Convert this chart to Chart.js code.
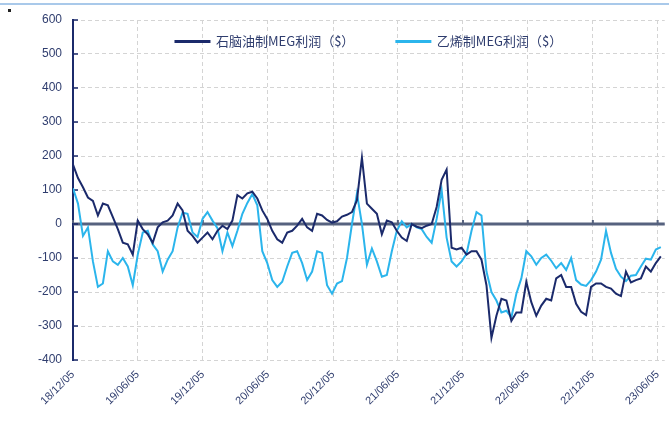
<!DOCTYPE html>
<html>
<head>
<meta charset="utf-8">
<script src="https://cdn.jsdelivr.net/npm/chart.js@4.4.0/dist/chart.umd.min.js"></script>
<style>
  html, body { margin: 0; padding: 0; background: #fff; }
  #wrap { position: relative; width: 669px; height: 423px; }
  #topline { position: absolute; left: 0; top: 3px; width: 669px; height: 2px; background: #a9c9ea; }
  #dot { position: absolute; left: 8px; top: 9px; width: 3px; height: 3px; background: #222; }
  canvas { position: absolute; left: 0; top: 0; }
</style>
</head>
<body>
<div id="wrap">
  <div id="topline"></div>
  <div id="dot"></div>
  <canvas id="chart" width="669" height="423"></canvas>
</div>
<script>
// samples every 14 days from 2018-12-05
const startDate = '18/12/05';
const stepDays = 14;
const seriesNames = ['石脑油制MEG利润（$）', '乙烯制MEG利润（$）'];
const naphthaProfit = [
  175, 135, 108, 78, 68, 25, 60, 55, 20, -15,
  -55, -60, -90, 10, -15, -30, -55, -10, 5, 10,
  25, 60, 40, -20, -35, -55, -40, -25, -45, -20,
  -5, -15, 10, 85, 75, 90, 95, 75, 40, 15,
  -20, -45, -55, -25, -20, -5, 15, -10, -20, 30,
  25, 12, 4, 8, 22, 27, 35, 70, 195, 60,
  45, 30, -30, 10, 5, -20, -40, -50, 0, -8,
  -12, -5, 0, 50, 130, 160, -70, -75, -70, -90,
  -80, -80, -105, -180, -335, -270, -220, -225, -285, -260,
  -260, -170, -230, -270, -240, -220, -225, -160, -150, -185,
  -185, -235, -258, -268, -185, -175, -175, -185, -190, -205,
  -212, -140, -172, -165, -160, -125, -140, -115, -95
];
const ethyleneProfit = [
  105, 60, -35, -10, -110, -185, -175, -80, -110, -120,
  -100, -125, -180, -90, -25, -20, -60, -80, -140, -105,
  -80, -10, 33, 30, -25, -38, 15, 35, 10, -12,
  -80, -25, -65, -20, 30, 62, 88, 55, -80, -115,
  -165, -185, -170, -125, -85, -80, -115, -165, -140, -80,
  -85, -180, -205, -175, -168, -100, 0, 90, 0, -120,
  -72, -110, -155, -150, -80, -20, 8, -10, 0, -10,
  -15, -38, -55, 15, 100, -40, -110, -125, -110, -88,
  -20, 35, 25, -140, -200, -225, -260, -255, -275, -205,
  -160, -80, -95, -120, -100, -90, -108, -130, -115, -135,
  -100, -165, -178, -182, -165, -140, -105, -20, -85, -132,
  -155, -168, -152, -150, -125, -102, -105, -75, -68
];
const tickLabels = ['18/12/05', '19/06/05', '19/12/05', '20/06/05', '20/12/05',
                    '21/06/05', '21/12/05', '22/06/05', '22/12/05', '23/06/05'];
const lastDay = '23/06/25';

const navy = '#1b2a6b';
const sky = '#2bb5ec';
const labelColor = '#2f3d6e';

function toDay(s) {
  const [yy, mm, dd] = s.split('/').map(Number);
  const [y0, m0, d0] = startDate.split('/').map(Number);
  return (Date.UTC(2000 + yy, mm - 1, dd) - Date.UTC(2000 + y0, m0 - 1, d0)) / 86400000;
}
const tickDays = tickLabels.map(toDay);
const asPoints = arr => arr.map((v, i) => ({ x: i * stepDays, y: v }));

// zero line with its small tick marks, and the inward ticks on the y axis
const refLines = {
  id: 'refLines',
  beforeDatasetsDraw(chart) {
    const { ctx, chartArea: a, scales: { x, y } } = chart;
    const y0 = y.getPixelForValue(0);
    ctx.save();
    ctx.fillStyle = '#56627f';
    ctx.fillRect(a.left, y0 - 1.5, a.right - a.left, 3);
    x.ticks.forEach(t => {
      const px = x.getPixelForValue(t.value);
      ctx.fillRect(px - 1, y0 - 4, 2, 3);
    });
    ctx.strokeStyle = navy;
    ctx.lineWidth = 1.5;
    y.ticks.forEach(t => {
      const py = y.getPixelForValue(t.value);
      ctx.beginPath();
      ctx.moveTo(a.left, py);
      ctx.lineTo(a.left + 5, py);
      ctx.stroke();
    });
    ctx.restore();
  }
};

// legend takes (almost) no room at the top; move it down into the plot
const legendShift = {
  id: 'legendShift',
  afterLayout(chart) {
    const lg = chart.legend;
    const pad = lg.options.labels.padding;
    const top = chart.chartArea.top;
    lg.top = top + 15 - pad;
    lg.bottom = top + 40;
    lg.height = lg.bottom - lg.top;
  }
};

new Chart(document.getElementById('chart'), {
  type: 'line',
  data: {
    datasets: [
      { label: seriesNames[0], data: asPoints(naphthaProfit), borderColor: navy, backgroundColor: navy, borderWidth: 2, pointRadius: 0, tension: 0 },
      { label: seriesNames[1], data: asPoints(ethyleneProfit), borderColor: sky, backgroundColor: sky, borderWidth: 2, pointRadius: 0, tension: 0 }
    ]
  },
  options: {
    responsive: false,
    animation: false,
    layout: { padding: { top: 19, right: 2, left: 0, bottom: 0 } },
    plugins: {
      legend: {
        position: 'top',
        align: 'center',
        fullSize: false,
        maxHeight: 1,
        labels: {
          boxWidth: 34, boxHeight: 1, padding: 42,
          color: labelColor,
          font: { family: '"Noto Sans CJK SC", "Noto Sans", sans-serif', size: 13 }
        }
      },
      tooltip: { enabled: false }
    },
    scales: {
      x: {
        type: 'linear',
        min: 0,
        max: toDay(lastDay),
        afterBuildTicks(scale) { scale.ticks = tickDays.map(v => ({ value: v })); },
        afterFit(scale) { scale.height = 63; },
        ticks: {
          minRotation: 45, maxRotation: 45, padding: 2,
          color: labelColor,
          font: { family: 'Arial, "Liberation Sans", sans-serif', size: 11 },
          callback: v => tickLabels[tickDays.indexOf(v)]
        },
        grid: { color: '#d4d4d4', lineWidth: 1, tickLength: 6, tickColor: 'transparent' },
        border: { display: false, dash: [4, 3] }
      },
      y: {
        min: -400, max: 600,
        afterFit(scale) { scale.width = 73; },
        ticks: {
          stepSize: 100, padding: 3,
          color: labelColor,
          font: { family: 'Arial, "Liberation Sans", sans-serif', size: 12 }
        },
        grid: { color: '#d4d4d4', lineWidth: 1, tickLength: 8, tickColor: 'transparent' },
        border: { display: true, color: navy, width: 2, dash: [4, 3] }
      }
    }
  },
  plugins: [refLines, legendShift]
});
</script>
</body>
</html>
